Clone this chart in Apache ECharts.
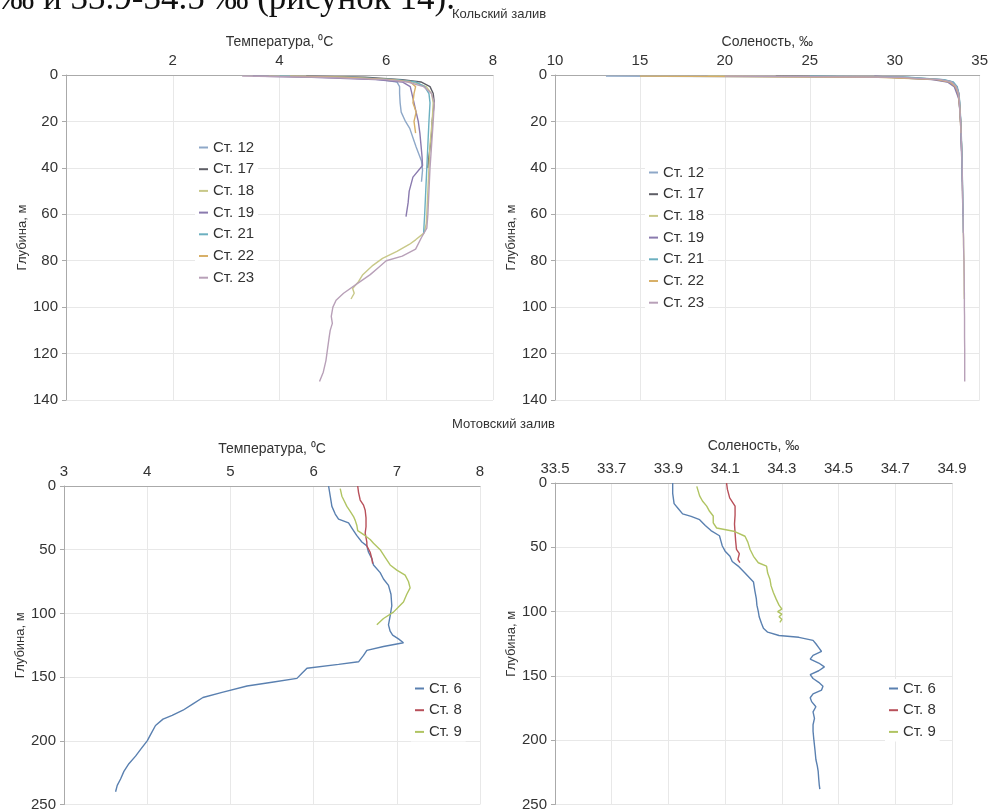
<!DOCTYPE html>
<html>
<head>
<meta charset="utf-8">
<script src="https://cdn.jsdelivr.net/npm/echarts@6/dist/echarts.min.js"></script>
<style>
html, body { margin: 0; padding: 0; background: #fff; }
#main { width: 991px; height: 812px; }
</style>
</head>
<body>
<div id="main"></div>
<script>
// станции
var kolaStations = ['Ст. 12', 'Ст. 17', 'Ст. 18', 'Ст. 19', 'Ст. 21', 'Ст. 22', 'Ст. 23'];
var motStations = ['Ст. 6', 'Ст. 8', 'Ст. 9'];

// Кольский залив: глубина, температура, соленость
var k12Depth = [0.5, 1, 2, 3, 5, 8, 12, 16, 20, 23, 27, 31, 37, 41, 46];
var k12Temp  = [3.9, 5.0, 5.9, 6.2, 6.25, 6.25, 6.26, 6.28, 6.36, 6.44, 6.5, 6.56, 6.66, 6.68, 6.66];
var k12Sal   = [13.0, 29.5, 32.4, 33.2, 33.55, 33.72, 33.8, 33.85, 33.88, 33.9, 33.91, 33.93, 33.96, 33.97, 33.98];

var k17Depth = [0.5, 1, 2, 3, 5, 8, 12, 16, 20, 25, 30, 35, 40];
var k17Temp  = [4.5, 5.6, 6.3, 6.65, 6.82, 6.88, 6.9, 6.88, 6.86, 6.85, 6.83, 6.8, 6.78];
var k17Sal   = [23.0, 30.5, 32.8, 33.4, 33.65, 33.77, 33.82, 33.85, 33.88, 33.9, 33.93, 33.95, 33.97];

var k18Depth = [0.5, 1, 2, 3, 5, 8, 12, 20, 30, 40, 50, 60, 64, 68, 71, 73, 76, 79, 82, 86, 89, 92, 94, 96.5];
var k18Temp  = [3.8, 5.1, 6.1, 6.5, 6.75, 6.85, 6.88, 6.86, 6.82, 6.8, 6.78, 6.76, 6.75, 6.71, 6.55, 6.43, 6.2, 5.93, 5.75, 5.56, 5.48, 5.37, 5.4, 5.34];
var k18Sal   = [19.0, 30.0, 32.6, 33.3, 33.6, 33.75, 33.8, 33.88, 33.93, 33.97, 33.99, 34.02, 34.03, 34.04, 34.05, 34.05, 34.06, 34.07, 34.08, 34.08, 34.09, 34.09, 34.09, 34.1];

var k19Depth = [0.5, 1, 2, 3, 5, 10, 15, 20, 25, 30, 35, 39, 44, 50, 55, 61];
var k19Temp  = [3.5, 4.6, 5.8, 6.3, 6.45, 6.5, 6.55, 6.6, 6.63, 6.65, 6.67, 6.68, 6.5, 6.43, 6.41, 6.37];
var k19Sal   = [28.8, 29.8, 32.2, 33.1, 33.5, 33.76, 33.83, 33.87, 33.9, 33.92, 33.94, 33.96, 33.97, 33.99, 34.0, 34.02];

var k21Depth = [0.5, 1, 2, 3, 5, 8, 12, 20, 30, 40, 50, 60, 68];
var k21Temp  = [4.0, 5.3, 6.2, 6.55, 6.72, 6.8, 6.82, 6.8, 6.78, 6.76, 6.74, 6.72, 6.7];
var k21Sal   = [25.0, 30.8, 32.9, 33.45, 33.68, 33.78, 33.83, 33.89, 33.94, 33.97, 34.0, 34.02, 34.04];

var k22Depth = [0.5, 1, 2, 3, 5, 8, 12, 16, 20, 25];
var k22Temp  = [4.2, 5.2, 6.1, 6.45, 6.55, 6.52, 6.5, 6.56, 6.52, 6.55];
var k22Sal   = [15.0, 29.0, 32.5, 33.25, 33.58, 33.74, 33.8, 33.85, 33.87, 33.9];

var k23Depth = [0.5, 1, 2, 3, 5, 8, 12, 20, 30, 40, 50, 60, 66, 70, 75, 78, 80, 83, 86, 90, 94, 97, 100, 104, 107, 110, 113, 118, 123, 128, 132];
var k23Temp  = [3.3, 4.8, 6.0, 6.4, 6.7, 6.85, 6.9, 6.88, 6.85, 6.82, 6.8, 6.78, 6.76, 6.66, 6.55, 6.3, 6.0, 5.85, 5.7, 5.45, 5.2, 5.06, 5.0, 4.97, 4.99, 4.95, 4.93, 4.9, 4.87, 4.82, 4.75];
var k23Sal   = [20.0, 30.2, 32.7, 33.35, 33.62, 33.76, 33.81, 33.88, 33.93, 33.97, 33.99, 34.02, 34.03, 34.05, 34.06, 34.07, 34.08, 34.08, 34.09, 34.09, 34.1, 34.1, 34.1, 34.11, 34.11, 34.11, 34.11, 34.12, 34.12, 34.12, 34.12];

// Мотовский залив: температура
var m6Depth = [0, 8, 16, 22, 26, 29, 33, 39, 44, 47, 52, 57, 62, 68, 73, 78, 85, 94, 102, 109, 114, 117, 120, 123, 126, 129, 133, 138, 140, 143, 147, 151, 154, 157, 162, 166, 171, 176, 180, 183, 188, 194, 200, 206, 212, 218, 224, 230, 235, 240];
var m6Temp  = [6.18, 6.2, 6.22, 6.26, 6.3, 6.42, 6.46, 6.52, 6.58, 6.64, 6.66, 6.7, 6.72, 6.8, 6.84, 6.9, 6.93, 6.94, 6.92, 6.9, 6.92, 6.95, 7.02, 7.08, 6.84, 6.64, 6.6, 6.54, 6.3, 5.92, 5.86, 5.8, 5.5, 5.2, 4.9, 4.67, 4.55, 4.43, 4.3, 4.19, 4.1, 4.05, 4.0, 3.93, 3.86, 3.78, 3.72, 3.68, 3.64, 3.62];
var m8Depth = [0, 5, 11, 15, 19, 25, 32, 37, 44, 47, 52, 57, 61];
var m8Temp  = [6.53, 6.54, 6.56, 6.6, 6.62, 6.63, 6.63, 6.62, 6.64, 6.64, 6.68, 6.7, 6.71];
var m9Depth = [2, 8, 12, 16, 20, 24, 27, 31, 35, 39, 42, 45, 50, 56, 62, 66, 70, 75, 80, 85, 91, 95, 99, 104, 109];
var m9Temp  = [6.32, 6.34, 6.37, 6.4, 6.44, 6.48, 6.5, 6.52, 6.53, 6.62, 6.68, 6.72, 6.8, 6.86, 6.92, 7.0, 7.1, 7.14, 7.16, 7.12, 7.08, 7.02, 6.96, 6.84, 6.76];

// Мотовский залив: соленость
var m6SalDepth = [0, 8, 16, 20, 24, 26, 28.5, 33, 37, 41, 45, 49, 53, 57, 61, 64.6, 70, 77, 84, 90, 95, 100, 104, 109, 113, 116, 118.6, 120, 122.4, 125, 128, 131, 134, 137, 140, 143, 146, 149, 152, 155, 158, 161, 164, 167, 170, 174, 178, 183, 188, 193, 200, 208, 215, 220, 224, 230, 235, 238];
var m6Sal = [33.915, 33.915, 33.92, 33.935, 33.95, 33.98, 34.01, 34.03, 34.05, 34.08, 34.085, 34.09, 34.1, 34.117, 34.125, 34.146, 34.17, 34.2, 34.205, 34.21, 34.212, 34.217, 34.22, 34.228, 34.235, 34.25, 34.29, 34.36, 34.41, 34.42, 34.43, 34.44, 34.41, 34.40, 34.43, 34.45, 34.43, 34.40, 34.41, 34.43, 34.445, 34.44, 34.41, 34.40, 34.405, 34.42, 34.41, 34.415, 34.41, 34.41, 34.413, 34.417, 34.42, 34.425, 34.428, 34.43, 34.432, 34.434];
var m8SalDepth = [0, 5, 11.6, 18, 25, 32, 38.8, 45, 51.6, 55, 59.4, 61.9];
var m8Sal = [34.105, 34.108, 34.116, 34.135, 34.135, 34.133, 34.135, 34.137, 34.14, 34.15, 34.145, 34.152];
var m9SalDepth = [2.6, 10, 14, 18, 22, 25.7, 31, 35, 37.5, 41.4, 46, 51.7, 57, 62, 64.6, 70, 74.8, 80, 85.1, 90.3, 95, 98, 100, 102, 104, 106, 108.3];
var m9Sal = [34.0, 34.01, 34.02, 34.035, 34.045, 34.058, 34.058, 34.07, 34.13, 34.17, 34.18, 34.188, 34.2, 34.217, 34.246, 34.25, 34.258, 34.262, 34.27, 34.28, 34.29, 34.3, 34.285, 34.3, 34.29, 34.3, 34.293];

var kolaColors = ['#8ea8c8', '#5e5e66', '#c8c888', '#8a7aae', '#6cb0c0', '#d8b068', '#b8a0b8'];
var motColors = ['#5a80b0', '#b8505a', '#b0c462'];

var myChart = echarts.init(document.getElementById('main'));

function profile(name, xs, ds, idx, color) {
    return {
        name: name,
        type: 'line',
        xAxisIndex: idx,
        yAxisIndex: idx,
        data: xs.map(function (v, i) { return [v, ds[i]]; }),
        symbol: 'none',
        lineStyle: { width: 1.4, color: color },
        itemStyle: { color: color },
        silent: true
    };
}

function xAx(idx, name, min, max, step, gap) {
    return {
        type: 'value', gridIndex: idx, position: 'top',
        min: min, max: max, interval: step,
        name: name, nameLocation: 'middle', nameGap: gap,
        nameTextStyle: { fontSize: 14, color: '#333' },
        axisLine: { show: true, onZero: false, lineStyle: { color: '#aaa' } },
        axisTick: { show: false },
        axisLabel: { fontSize: 15, color: '#333', margin: 7, showMinLabel: idx !== 0,
            formatter: function (v) { return idx === 3 ? v.toFixed(1) : v; } },
        splitLine: { show: true, lineStyle: { color: '#e8e8e8' } }
    };
}

function yAx(idx, max, step) {
    return {
        type: 'value', gridIndex: idx, inverse: true,
        min: 0, max: max, interval: step,
        name: 'Глубина, м', nameLocation: 'middle', nameGap: 36,
        nameTextStyle: { fontSize: 13, color: '#333' },
        axisLine: { show: true, onZero: false, lineStyle: { color: '#aaa' } },
        axisTick: { show: true, length: 4, lineStyle: { color: '#aaa' } },
        axisLabel: { fontSize: 15, color: '#333', margin: 8 },
        splitLine: { show: true, lineStyle: { color: '#e8e8e8' } }
    };
}

function legend(data, left, top) {
    return {
        orient: 'vertical', left: left, top: top, data: data,
        icon: 'rect', itemWidth: 9, itemHeight: 2, itemGap: 6.7,
        backgroundColor: '#fff', padding: [2, 4],
        textStyle: { fontSize: 15, color: '#333' }
    };
}

var series = [];
var kT = [k12Temp, k17Temp, k18Temp, k19Temp, k21Temp, k22Temp, k23Temp];
var kS = [k12Sal, k17Sal, k18Sal, k19Sal, k21Sal, k22Sal, k23Sal];
var kD = [k12Depth, k17Depth, k18Depth, k19Depth, k21Depth, k22Depth, k23Depth];
kolaStations.forEach(function (n, i) { series.push(profile(n, kT[i], kD[i], 0, kolaColors[i])); });
kolaStations.forEach(function (n, i) { series.push(profile(n, kS[i], kD[i], 1, kolaColors[i])); });
var mT = [m6Temp, m8Temp, m9Temp], mTD = [m6Depth, m8Depth, m9Depth];
var mS = [m6Sal, m8Sal, m9Sal], mSD = [m6SalDepth, m8SalDepth, m9SalDepth];
motStations.forEach(function (n, i) { series.push(profile(n, mT[i], mTD[i], 2, motColors[i])); });
motStations.forEach(function (n, i) { series.push(profile(n, mS[i], mSD[i], 3, motColors[i])); });

option = {
    animation: false,
    backgroundColor: '#fff',
    textStyle: { fontFamily: '"Liberation Sans", Arial, sans-serif' },
    title: [
        { text: 'Кольский залив', left: 452, top: 8, padding: 0,
          textStyle: { fontSize: 13, fontWeight: 'normal', color: '#333' } },
        { text: 'Мотовский залив', left: 452, top: 418, padding: 0,
          textStyle: { fontSize: 13, fontWeight: 'normal', color: '#333' } }
    ],
    graphic: [
        { type: 'text', silent: true, z: -1,
          style: { text: '‰ и 33.9-34.5 ‰ (рисунок 14).', x: 455, y: 17, align: 'right',
                   verticalAlign: 'bottom', font: '35px "Liberation Serif", serif', fill: '#111' } }
    ],
    grid: [
        { left: 66, top: 75, width: 427, height: 325 },
        { left: 555, top: 75, width: 428, height: 325 },
        { left: 64, top: 486, width: 416, height: 322 },
        { left: 555, top: 483, width: 397, height: 324 }
    ],
    xAxis: [
        xAx(0, 'Температура, ⁰С', 0, 8, 2, 26),
        xAx(1, 'Соленость, ‰', 10, 35, 5, 26),
        xAx(2, 'Температура, ⁰С', 3, 8, 1, 30),
        xAx(3, 'Соленость, ‰', 33.5, 34.9, 0.2, 30)
    ],
    yAxis: [yAx(0, 140, 20), yAx(1, 140, 20), yAx(2, 250, 50), yAx(3, 250, 50)],
    legend: [
        legend(kolaStations, 195, 138),
        legend(kolaStations, 645, 163),
        legend(motStations, 411, 679),
        legend(motStations, 885, 679)
    ],
    series: series
};
myChart.setOption(option);
</script>
</body>
</html>
